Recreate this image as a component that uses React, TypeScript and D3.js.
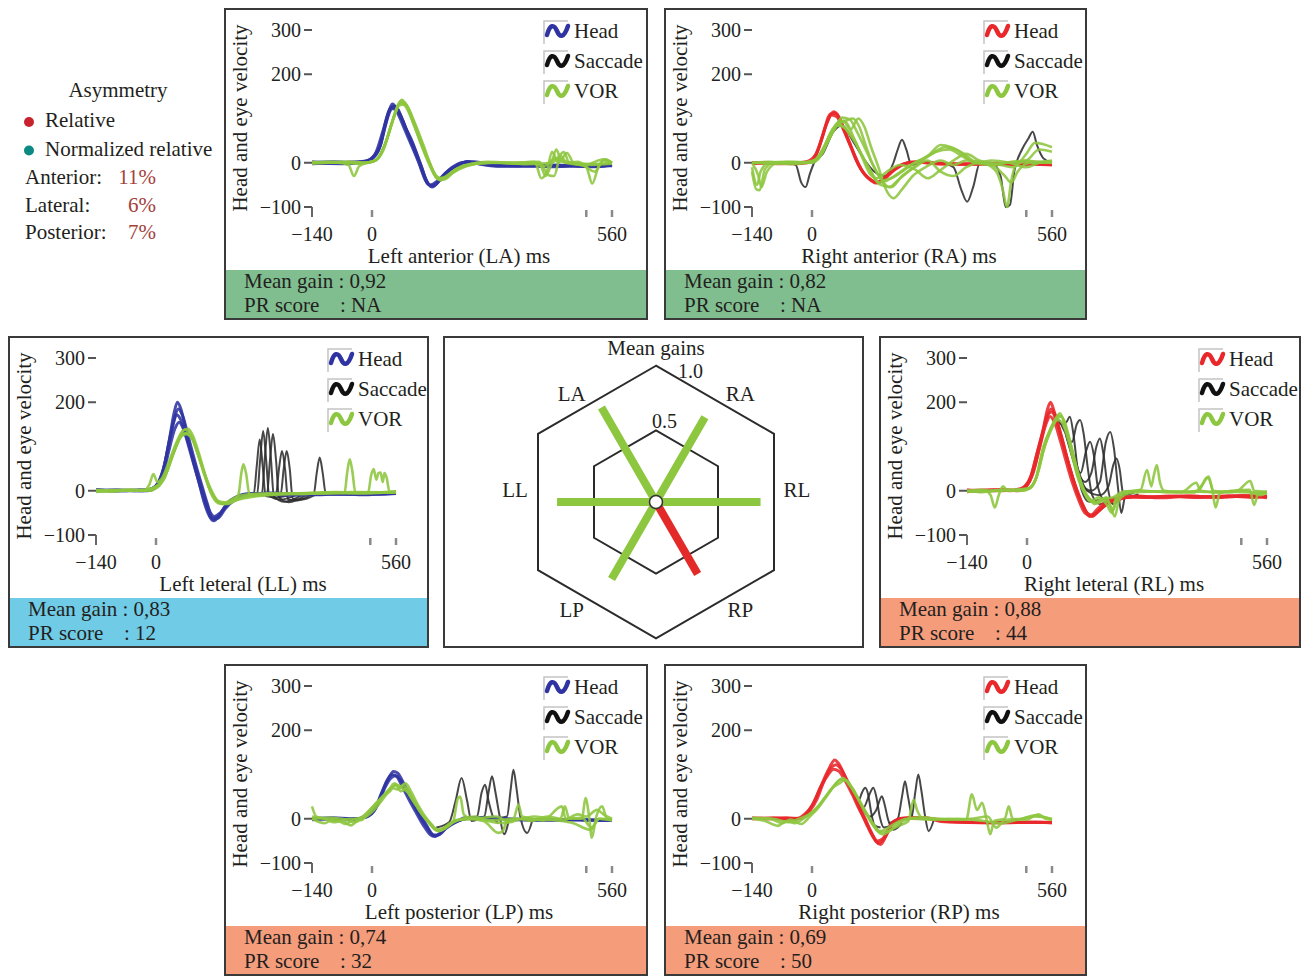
import React from "react";
import * as d3 from "d3";

type Pt = [number, number];

const FONT = "'Liberation Serif', 'Times New Roman', serif";
const INK = "#231f20";
const BLUE = "#3034a2";
const RED = "#e8282b";
const GREEN = "#8dc63f";
const SACC = "#2e2e2e";
const FS = 21; // words
const FN = 20; // numbers

// ---- axes ----
const xDomain: [number, number] = [-140, 560];
const yDomain: [number, number] = [-100, 300];
const xTickValues = [-140, 0, 500, 560];
const xTickLabels = ["−140", "0", "", "560"];
const yTickValues = [300, 200, 0, -100];
const yTickLabels = ["300", "200", "0", "−100"];
const legendLabels = ["Head", "Saccade", "VOR"];

// ---- panels (LA, RA, LL, RL, LP, RP) ----
const canalTitles = [
  "Left anterior (LA) ms",
  "Right anterior (RA) ms",
  "Left leteral (LL) ms",
  "Right leteral (RL) ms",
  "Left posterior (LP) ms",
  "Right posterior (RP) ms",
];
const canalSides = ["left", "right", "left", "right", "left", "right"];
const meanGainLabels = ["0,92", "0,82", "0,83", "0,88", "0,74", "0,69"];
const prScoreLabels = ["NA", "NA", "12", "44", "32", "50"];
const prBands = ["none", "none", "low", "high", "high", "high"];

// ---- head velocity traces (deg/s vs ms) ----
const laHead: Pt[][] = [
  [[-140,0],[-90,2],[-40,0],[-12,4],[5,15],[20,40],[35,100],[48,133],[60,118],[78,80],[95,45],[112,0],[128,-42],[140,-55],[158,-40],[180,-18],[200,-8],[220,2],[245,-2],[290,-8],[350,-6],[420,-9],[480,-7],[530,-8],[560,-5]],
  [[-140,2],[-100,0],[-50,1],[-15,2],[2,12],[18,35],[32,92],[45,125],[58,115],[75,78],[92,40],[110,-2],[125,-40],[136,-50],[152,-42],[175,-20],[198,-6],[225,3],[260,-4],[320,-7],[380,-5],[440,-8],[500,-6],[560,-6]],
  [[-140,-2],[-80,0],[-30,2],[-8,6],[10,25],[25,70],[40,118],[52,128],[65,110],[82,70],[100,30],[116,-10],[130,-48],[143,-52],[162,-35],[185,-12],[210,0],[240,2],[280,-6],[340,-8],[400,-6],[460,-7],[520,-9],[560,-4]],
  [[-140,0],[-70,-2],[-20,0],[0,8],[15,28],[30,80],[44,120],[56,126],[70,100],[88,55],[106,12],[122,-30],[137,-53],[150,-47],[170,-25],[195,-8],[215,1],[250,0],[300,-5],[370,-8],[430,-5],[490,-8],[560,-7]],
];
const raHead: Pt[][] = [
  [[-140,0],[-90,0],[-40,-2],[-10,0],[5,10],[20,45],[35,90],[50,115],[62,105],[78,68],[92,35],[106,0],[122,-25],[140,-40],[156,-45],[172,-32],[192,-15],[215,-2],[245,2],[300,-3],[380,-2],[460,-4],[520,-3],[560,-3]],
  [[-140,0],[-70,-2],[-25,0],[0,5],[15,30],[30,78],[46,108],[58,104],[72,78],[88,42],[102,8],[118,-20],[135,-38],[150,-46],[168,-38],[190,-18],[212,-4],[240,1],[300,-2],[360,-4],[430,-2],[500,-3],[560,-5]],
  [[-140,-2],[-100,0],[-50,0],[-15,2],[8,18],[25,62],[42,110],[55,112],[68,90],[84,52],[100,16],[115,-15],[132,-35],[148,-44],[162,-40],[182,-22],[205,-8],[230,1],[270,0],[340,-3],[410,-3],[480,-2],[560,-4]],
];
const llHead: Pt[][] = [
  [[-140,2],[-100,0],[-60,1],[-30,0],[-10,4],[5,18],[20,60],[32,120],[42,175],[50,200],[58,185],[70,135],[85,75],[100,20],[112,-25],[125,-58],[135,-68],[148,-55],[165,-30],[185,-15],[210,-10],[260,-8],[320,-10],[400,-7],[470,-8],[530,-6],[560,-5]],
  [[-140,0],[-90,2],[-50,0],[-20,2],[0,10],[15,40],[28,95],[40,150],[48,172],[58,160],[72,115],[88,60],[103,10],[118,-35],[130,-62],[142,-60],[160,-38],[182,-18],[205,-8],[250,-6],[310,-8],[380,-9],[450,-6],[510,-8],[560,-6]],
  [[-140,0],[-80,0],[-40,2],[-15,3],[3,14],[18,50],[30,108],[42,160],[52,185],[62,170],[76,120],[92,62],[107,12],[120,-30],[133,-65],[145,-62],[162,-40],[185,-20],[210,-10],[270,-5],[340,-9],[410,-6],[480,-9],[560,-5]],
  [[-140,3],[-100,0],[-50,0],[-20,0],[0,8],[16,35],[30,90],[44,140],[54,155],[64,140],[78,100],[94,48],[108,2],[122,-40],[136,-58],[150,-50],[170,-28],[195,-12],[225,-6],[290,-9],[360,-7],[430,-8],[500,-6],[560,-4]],
];
const rlHead: Pt[][] = [
  [[-140,0],[-90,0],[-50,2],[-25,0],[-5,10],[10,35],[25,90],[38,140],[48,185],[55,200],[63,180],[76,135],[90,85],[105,35],[118,-5],[132,-35],[146,-58],[160,-52],[175,-38],[200,-22],[240,-14],[280,-15],[330,-12],[400,-14],[470,-12],[530,-15],[560,-12]],
  [[-140,-2],[-100,0],[-60,0],[-30,2],[-8,8],[8,30],[22,80],[36,130],[48,172],[58,178],[68,160],[82,115],[96,65],[110,18],[124,-20],[138,-48],[152,-58],[168,-45],[190,-28],[220,-18],[260,-12],[310,-16],[380,-12],[450,-15],[510,-12],[560,-16]],
  [[-140,0],[-80,2],[-40,0],[-15,3],[2,15],[18,55],[32,110],[45,160],[56,185],[66,170],[80,125],[94,72],[108,25],[122,-12],[136,-45],[150,-55],[165,-48],[185,-30],[210,-20],[250,-13],[300,-14],[370,-12],[440,-14],[500,-11],[560,-14]],
  [[-140,2],[-110,0],[-60,2],[-20,0],[0,12],[15,42],[30,100],[44,150],[54,168],[64,155],[78,112],[93,60],[107,15],[121,-22],[135,-50],[148,-56],[162,-44],[182,-26],[210,-16],[260,-14],[330,-13],[400,-15],[480,-12],[560,-13]],
];
const lpHead: Pt[][] = [
  [[-140,0],[-100,0],[-60,-2],[-30,0],[-10,10],[8,25],[22,58],[38,90],[50,107],[60,103],[75,78],[92,43],[108,15],[124,-9],[138,-32],[148,-39],[162,-30],[178,-16],[200,-5],[217,2],[250,3],[300,0],[360,-2],[420,-3],[480,-2],[530,-4],[560,-3]],
  [[-140,0],[-90,2],[-50,0],[-20,2],[0,12],[15,35],[30,70],[44,92],[55,97],[66,88],[82,60],[98,30],[114,2],[130,-22],[143,-37],[156,-36],[172,-22],[195,-8],[220,0],[270,2],[330,-1],[400,-3],[470,-2],[560,-4]],
  [[-140,-2],[-80,0],[-40,0],[-12,5],[5,18],[20,50],[34,85],[47,100],[58,95],[72,70],[88,40],[104,12],[120,-15],[135,-35],[147,-40],[160,-32],[180,-14],[205,-3],[240,2],[300,-1],[380,-3],[450,-2],[520,-3],[560,-2]],
];
const rpHead: Pt[][] = [
  [[-140,0],[-90,2],[-50,0],[-30,2],[-15,12],[0,30],[20,72],[38,110],[53,133],[62,125],[76,98],[92,66],[108,32],[124,0],[138,-30],[150,-52],[160,-58],[172,-40],[186,-10],[205,0],[230,2],[265,2],[300,-6],[360,-8],[430,-9],[500,-8],[560,-9]],
  [[-140,2],[-100,0],[-60,2],[-25,0],[-10,15],[5,38],[22,75],[38,100],[50,112],[62,108],[78,85],[94,55],[110,22],[125,-5],[140,-35],[152,-50],[165,-45],[180,-20],[200,-3],[240,3],[280,0],[330,-7],[400,-9],[470,-8],[560,-8]],
  [[-140,0],[-80,0],[-40,-2],[-20,5],[-5,18],[12,45],[28,85],[44,115],[56,122],[68,112],[84,82],[100,48],[116,12],[130,-18],[145,-45],[156,-55],[170,-42],[188,-12],[210,1],[250,2],[310,-5],[380,-8],[450,-9],[520,-8],[560,-9]],
];

// ---- VOR (eye) traces ----
const laVor: Pt[][] = [
  [[-140,0],[-100,2],[-60,0],[-30,-2],[0,2],[15,12],[35,55],[55,115],[70,142],[85,118],[100,80],[118,35],[135,-5],[152,-35],[170,-32],[195,-15],[230,-4],[280,0],[340,-2],[390,0],[405,-30],[418,-5],[430,30],[442,5],[470,0],[520,-3],[560,0]],
  [[-140,0],[-80,0],[-55,-5],[-42,-30],[-30,-8],[-10,0],[12,8],[32,45],[52,105],[66,135],[80,125],[98,85],[115,40],[132,0],[150,-32],[168,-38],[190,-22],[220,-8],[270,0],[330,0],[380,2],[395,-35],[408,-20],[420,25],[435,0],[455,22],[470,0],[500,-10],[514,-47],[528,-10],[545,8],[560,0]],
  [[-140,2],[-90,0],[-40,0],[-10,0],[10,6],[30,40],[50,100],[68,140],[82,128],[100,90],[120,40],[138,-8],[155,-38],[175,-30],[200,-12],[240,-2],[300,0],[360,-3],[420,0],[448,24],[460,0],[500,-4],[540,8],[560,0]],
  [[-140,0],[-60,2],[-20,0],[5,4],[25,25],[45,85],[62,132],[76,136],[92,105],[110,60],[128,15],[145,-22],[160,-40],[180,-28],[210,-10],[250,0],[310,0],[370,0],[400,-8],[428,10],[450,0],[500,-5],[560,-2]],
  [[-140,-2],[-100,0],[-50,2],[-15,0],[8,5],[28,35],[48,95],[64,130],[78,132],[96,95],[114,48],[132,5],[150,-30],[165,-36],[188,-20],[225,-5],[270,2],[330,0],[390,2],[412,-28],[425,-30],[440,15],[455,0],[480,2],[520,-20],[540,5],[560,0]],
];
const raVor: Pt[][] = [
  [[-140,0],[-125,-30],[-118,-55],[-105,-20],[-80,0],[-40,2],[0,0],[20,15],[40,55],[58,85],[75,80],[95,55],[115,20],[135,-15],[155,-45],[175,-40],[200,-25],[230,-5],[260,10],[290,25],[320,30],[350,15],[380,0],[420,-5],[450,0],[500,5],[530,30],[560,25]],
  [[-140,-10],[-128,-50],[-120,-20],[-100,0],[-60,2],[-20,0],[5,5],[25,30],[45,70],[62,92],[78,95],[95,100],[110,82],[125,40],[140,0],[160,-35],[180,-55],[200,-40],[225,-20],[250,0],[280,20],[310,35],[340,28],[370,5],[400,0],[430,-20],[445,-60],[455,-100],[465,-40],[480,0],[520,2],[560,0]],
  [[-140,0],[-90,0],[-50,-3],[-10,0],[15,10],[35,45],[55,80],[72,95],[90,75],[108,100],[122,82],[138,35],[155,-10],[170,-55],[190,-80],[210,-60],[235,-30],[265,-10],[300,5],[330,-5],[360,5],[400,0],[440,-5],[470,-10],[500,20],[520,45],[540,42],[560,35]],
  [[-140,-20],[-130,-60],[-122,-62],[-110,-15],[-90,0],[-50,0],[-10,2],[10,8],[30,40],[50,78],[66,85],[84,70],[102,45],[120,10],[140,-25],[160,-50],[185,-55],[210,-30],[240,-10],[270,5],[300,-20],[330,-30],[360,-10],[390,0],[420,-5],[450,-30],[465,-45],[480,-20],[510,0],[560,0]],
  [[-140,0],[-100,2],[-60,0],[-20,0],[10,6],[30,35],[52,75],[70,102],[88,98],[105,70],[125,30],[145,-10],[165,-40],[185,-35],[210,-20],[240,0],[270,15],[300,40],[325,35],[355,20],[385,0],[420,5],[460,0],[500,-10],[530,0],[560,5]],
  [[-140,0],[-80,-2],[-30,0],[0,0],[22,20],[42,62],[60,88],[78,92],[96,60],[116,15],[135,-25],[152,-35],[175,-20],[205,-5],[240,-15],[270,-35],[295,-20],[330,5],[360,20],[390,5],[430,-2],[470,2],[500,5],[530,2],[560,3]],
];
const llVor: Pt[][] = [
  [[-140,0],[-100,-2],[-60,2],[-30,0],[-15,15],[-6,38],[3,20],[15,30],[30,65],[48,110],[62,135],[75,140],[88,120],[100,85],[112,45],[125,5],[140,-20],[155,-30],[175,-25],[200,-18],[240,-12],[290,-8],[350,-5],[420,-3],[480,-5],[560,-2]],
  [[-140,-3],[-90,0],[-40,0],[-10,5],[10,18],[28,50],[45,95],[60,125],[72,130],[86,115],[100,80],[114,35],[128,-5],[145,-28],[165,-30],[190,-20],[220,-10],[260,-8],[320,-6],[400,-5],[460,-3],[560,-4]],
  [[-140,0],[-70,2],[-25,0],[0,10],[18,25],[35,70],[52,112],[66,138],[80,128],[95,90],[110,48],[125,10],[140,-18],[158,-30],[180,-22],[192,-10],[200,45],[204,60],[210,40],[218,-8],[240,-10],[280,-8],[340,-6],[400,-6],[440,-5],[446,40],[452,71],[458,45],[465,-3],[500,-4],[560,-3]],
  [[-140,0],[-100,0],[-50,2],[-15,0],[5,10],[24,40],[42,88],[58,122],[70,128],[84,118],[98,82],[112,38],[128,-2],[145,-25],[165,-28],[190,-18],[230,-10],[290,-7],[360,-6],[430,-5],[495,-4],[502,35],[508,49],[514,25],[519,40],[524,41],[529,20],[533,40],[538,30],[545,-3],[560,-2]],
  [[-140,2],[-80,0],[-30,2],[0,6],[20,30],[38,80],[55,118],[68,130],[82,124],[97,86],[112,42],[128,0],[146,-24],[162,-26],[185,-15],[215,-8],[260,-6],[330,-8],[400,-4],[470,-6],[560,-3]],
];
const rlVor: Pt[][] = [
  [[-140,0],[-100,2],[-85,-10],[-75,-38],[-66,-10],[-56,10],[-45,0],[-20,0],[5,5],[20,25],[38,100],[55,140],[68,165],[77,175],[88,150],[100,110],[112,60],[124,20],[135,-5],[148,-20],[160,-25],[180,-18],[200,-15],[225,-2],[260,0],[300,-2],[350,-3],[400,0],[420,30],[432,5],[440,-38],[450,-5],[480,0],[520,2],[530,-32],[540,-5],[560,-3]],
  [[-140,-2],[-90,0],[-50,2],[-10,0],[10,10],[25,40],[42,105],[60,150],[74,170],[86,160],[98,120],[110,72],[122,30],[134,0],[150,-22],[165,-28],[185,-15],[200,-45],[210,-20],[230,-3],[265,2],[280,47],[290,10],[296,35],[303,58],[310,20],[320,0],[360,-3],[395,18],[405,0],[440,-3],[490,0],[521,22],[530,0],[560,-2]],
  [[-140,0],[-80,0],[-40,2],[0,3],[18,20],[36,85],[54,132],[70,162],[80,168],[92,140],[105,95],[118,45],[130,8],[145,-18],[158,-30],[172,-20],[190,-25],[205,-58],[215,-20],[240,-5],[290,-2],[340,-2],[390,-4],[410,15],[424,32],[434,0],[470,-2],[520,-4],[560,-5]],
  [[-140,0],[-110,-3],[-70,0],[-30,2],[5,6],[22,30],[40,95],[58,145],[72,160],[84,150],[96,115],[108,68],[120,25],[132,-2],[148,-24],[168,-15],[185,-30],[198,-50],[208,-15],[225,-5],[270,0],[330,-3],[400,-2],[460,-4],[510,0],[545,-10],[560,-5]],
];
const lpVor: Pt[][] = [
  [[-140,28],[-130,5],[-110,0],[-90,-8],[-70,-5],[-50,-15],[-30,0],[-15,10],[0,25],[20,45],[40,66],[55,75],[68,62],[80,70],[95,45],[110,20],[125,0],[142,-20],[155,-28],[175,-18],[190,-5],[200,45],[206,50],[214,10],[230,0],[280,-3],[330,0],[342,32],[350,5],[400,-3],[440,0],[450,28],[460,0],[490,0],[498,47],[506,10],[513,-43],[522,0],[537,28],[548,0],[560,-2]],
  [[-140,0],[-110,-10],[-90,0],[-60,-12],[-40,0],[-20,2],[0,15],[18,35],[36,58],[52,80],[64,72],[78,80],[92,60],[108,30],[124,5],[140,-15],[155,-28],[170,-22],[190,-8],[220,0],[260,-5],[295,-32],[305,-28],[315,-5],[350,0],[380,5],[420,-2],[470,-10],[510,-25],[530,0],[560,-4]],
  [[-140,0],[-100,2],[-70,0],[-40,-8],[-20,5],[-5,20],[12,38],[30,55],[46,70],[60,66],[74,75],[88,52],[104,28],[118,8],[134,-10],[150,-25],[168,-20],[185,-8],[210,0],[240,5],[270,-5],[310,-10],[340,0],[370,-5],[410,5],[450,-2],[480,10],[500,5],[525,20],[540,10],[560,0]],
  [[-140,5],[-110,0],[-80,-5],[-50,0],[-25,-3],[-10,12],[8,30],[25,50],[42,62],[56,78],[70,70],[85,58],[100,38],[116,12],[132,-5],[148,-22],[160,-26],[178,-15],[200,-3],[240,0],[290,5],[320,-8],[350,0],[400,-3],[443,28],[452,0],[490,2],[512,-20],[530,0],[560,-3]],
];
const rpVor: Pt[][] = [
  [[-140,0],[-110,-5],[-80,-16],[-60,-5],[-40,-10],[-20,0],[0,15],[20,35],[40,60],[58,82],[72,92],[88,75],[104,50],[120,22],[136,-5],[150,-25],[165,-35],[185,-25],[202,-16],[225,-5],[237,43],[245,20],[260,0],[300,0],[360,-2],[373,55],[385,20],[397,36],[407,0],[416,-35],[425,-5],[450,0],[459,28],[468,0],[500,-2],[529,10],[545,0],[560,-2]],
  [[-140,0],[-100,0],[-70,-10],[-50,-2],[-25,-12],[-5,5],[15,25],[35,52],[52,75],[66,88],[80,85],[96,65],[112,38],[128,10],[144,-15],[160,-30],[178,-28],[200,-12],[230,0],[280,-2],[340,0],[400,-5],[440,-10],[480,-2],[520,5],[560,0]],
  [[-140,2],[-90,0],[-55,-8],[-30,0],[-10,8],[10,22],[30,48],[48,70],[64,80],[78,88],[94,70],[110,42],[126,15],[142,-10],[158,-28],[175,-22],[195,-10],[220,0],[260,3],[310,-2],[370,0],[410,5],[430,-20],[450,-3],[490,0],[520,8],[560,-2]],
];

// ---- saccade traces ----
const laSacc: Pt[][] = [];
const raSacc: Pt[][] = [
  [[-140,0],[-60,0],[-38,-5],[-25,-45],[-15,-55],[-5,-25],[5,0],[25,20],[50,70],[70,85],[95,50],[120,10],[145,-20],[170,-30],[190,0],[200,30],[210,52],[220,30],[232,-5],[260,0],[300,0],[330,-10],[348,-60],[362,-88],[376,-55],[392,0],[420,0],[440,-30],[452,-100],[462,-95],[472,-20],[490,30],[505,55],[515,70],[525,40],[540,10],[560,0]],
];
const llSacc: Pt[][] = [
  [[200,-10],[228,-8],[235,55],[242,116],[249,55],[256,-12],[280,-15],[320,-8]],
  [[200,-10],[236,-8],[243,70],[250,135],[257,70],[264,-10],[290,-20],[330,-8]],
  [[210,-10],[247,-8],[254,75],[261,142],[268,75],[275,-12],[300,-25],[340,-10]],
  [[220,-10],[259,-8],[266,70],[273,128],[280,70],[287,-15],[310,-26],[350,-10]],
  [[230,-10],[280,-8],[287,50],[294,90],[301,50],[308,-20],[330,-22],[360,-10]],
  [[240,-10],[291,-8],[298,50],[305,90],[312,50],[319,-18],[340,-20],[370,-10]],
  [[300,-8],[368,-8],[375,40],[382,75],[389,40],[396,-6],[420,-8]],
];
const rlSacc: Pt[][] = [
  [[70,160],[82,150],[92,155],[100,167],[108,130],[118,50],[128,0],[145,-25],[170,-20]],
  [[75,160],[90,130],[105,110],[116,150],[124,160],[132,130],[142,50],[152,-10],[170,-30],[200,-20]],
  [[90,130],[110,70],[125,40],[138,90],[147,111],[156,80],[165,10],[180,-20],[210,-15]],
  [[90,130],[115,50],[135,20],[150,40],[162,100],[170,118],[178,85],[188,10],[200,-30],[225,-10]],
  [[100,100],[125,20],[150,0],[170,20],[184,110],[194,133],[203,95],[212,10],[220,-50],[230,-10],[250,-5]],
  [[110,80],[140,0],[170,-10],[190,10],[202,60],[209,73],[216,50],[224,-5],[235,-15],[260,-8]],
];
const lpSacc: Pt[][] = [
  [[150,-20],[180,-8],[195,40],[209,92],[222,40],[232,-5],[250,0]],
  [[220,0],[245,5],[256,60],[264,77],[272,40],[282,5],[295,-10]],
  [[230,0],[262,5],[272,60],[280,96],[288,60],[298,5],[308,-35],[320,0]],
  [[280,0],[315,5],[324,70],[330,111],[337,70],[346,5],[362,-32],[375,0]],
];
const rpSacc: Pt[][] = [
  [[95,60],[108,40],[117,60],[124,70],[131,55],[138,15],[146,-15],[160,-20]],
  [[100,55],[120,25],[134,55],[143,70],[150,50],[158,5],[168,-20],[185,-15]],
  [[110,40],[135,5],[150,20],[163,51],[170,30],[177,0],[190,-25],[210,-10]],
  [[180,-10],[200,0],[210,50],[217,85],[224,50],[234,5],[250,0]],
  [[200,0],[232,2],[241,60],[248,100],[255,65],[264,5],[272,-28],[285,0]],
];

const headTraces = [laHead, raHead, llHead, rlHead, lpHead, rpHead];
const vorTraces = [laVor, raVor, llVor, rlVor, lpVor, rpVor];
const saccadeTraces = [laSacc, raSacc, llSacc, rlSacc, lpSacc, rpSacc];

// ---- radar (mean gains), counter-clockwise from the right ----
const radarAxes = ["RL", "RA", "LA", "LL", "LP", "RP"];
const radarGains = [0.88, 0.82, 0.92, 0.83, 0.74, 0.69];
const radarAbnormal = [false, false, false, false, false, true];
const ringValues = [0.5, 1.0];
const ringLabels = ["0.5", "1.0"];

// ---- asymmetry legend ----
const asymKinds = ["Relative", "Normalized relative"];
const asymRows = ["Anterior:", "Lateral:", "Posterior:"];
const asymValues = ["11%", "6%", "7%"];

// ---- layout ----
const panelBoxes = [
  { x: 224, y: 8, w: 424, h: 312 },
  { x: 664, y: 8, w: 423, h: 312 },
  { x: 8, y: 336, w: 421, h: 312 },
  { x: 879, y: 336, w: 422, h: 312 },
  { x: 224, y: 664, w: 424, h: 312 },
  { x: 664, y: 664, w: 423, h: 312 },
];
const radarBox = { x: 443, y: 336, w: 421, h: 312 };
const bandFill: Record<string, string> = { none: "#80bd8f", low: "#70cbe6", high: "#f59c7b" };

const LegendIcon = ({ y, color }: { y: number; color: string }) => (
  <g>
    <path d={`M320,${y + 13} V${y - 10} H344`} fill="none" stroke="#c4c4c4" strokeWidth={1.5} />
    <path
      d={`M323,${y + 4} C326,${y - 7} 330,${y - 7} 333,${y} C336,${y + 7} 340,${y + 7} 344,${y - 5}`}
      fill="none"
      stroke={color}
      strokeWidth={4.5}
      strokeLinecap="round"
    />
  </g>
);

const TracePanel = ({ i }: { i: number }) => {
  const b = panelBoxes[i];
  const xs = d3.scaleLinear().domain(xDomain).range([88, 388]);
  const ys = d3.scaleLinear().domain(yDomain).range([199, 22]);
  const line = d3
    .line<Pt>()
    .x((d) => xs(d[0]))
    .y((d) => ys(d[1]))
    .curve(d3.curveMonotoneX);
  const headColor = canalSides[i] === "left" ? BLUE : RED;
  const series = [
    { traces: saccadeTraces[i], color: SACC, width: 2 },
    { traces: headTraces[i], color: headColor, width: 3 },
    { traces: vorTraces[i], color: GREEN, width: 2.6 },
  ];
  const legendColors = [headColor, "#111", GREEN];
  const axisBottom = ys(-100);
  return (
    <g transform={`translate(${b.x},${b.y})`} fontFamily={FONT} fill={INK}>
      <rect x={1} y={1} width={b.w - 2} height={b.h - 2} fill="#fff" />
      <rect x={2} y={262} width={b.w - 4} height={b.h - 263} fill={bandFill[prBands[i]]} />

      {/* y ticks */}
      {yTickValues.map((v, k) => (
        <g key={v}>
          <line x1={80} x2={88} y1={ys(v)} y2={ys(v)} stroke="#555" strokeWidth={2} />
          <text x={77} y={ys(v)} dy="0.35em" textAnchor="end" fontSize={FN}>
            {yTickLabels[k]}
          </text>
        </g>
      ))}
      {/* x ticks */}
      {xTickValues.map((v, k) => (
        <g key={v}>
          <line
            x1={xs(v)}
            x2={xs(v)}
            y1={k === 0 ? axisBottom : axisBottom + 3}
            y2={axisBottom + 10}
            stroke={k === 0 ? "#666" : "#8a8a8a"}
            strokeWidth={k === 0 ? 2 : 2.5}
          />
          <text x={xs(v)} y={233} textAnchor="middle" fontSize={FN}>
            {xTickLabels[k]}
          </text>
        </g>
      ))}
      <text x={235} y={255} textAnchor="middle" fontSize={FS}>
        {canalTitles[i]}
      </text>
      <text transform="translate(23,110) rotate(-90)" textAnchor="middle" fontSize={FS}>
        Head and eye velocity
      </text>

      {/* traces */}
      {series.map((s, si) =>
        s.traces.map((t, ti) => (
          <path
            key={`${si}-${ti}`}
            d={line(t) || ""}
            fill="none"
            stroke={s.color}
            strokeWidth={s.width}
            strokeOpacity={0.88}
            strokeLinejoin="round"
          />
        ))
      )}

      {/* legend */}
      {legendLabels.map((lab, k) => (
        <g key={lab}>
          <LegendIcon y={23 + k * 30} color={legendColors[k]} />
          <text x={350} y={30 + k * 30} fontSize={FS}>
            {lab}
          </text>
        </g>
      ))}

      {/* gain band */}
      <text x={20} y={280} fontSize={FS}>{`Mean gain : ${meanGainLabels[i]}`}</text>
      <text x={20} y={304} fontSize={FS}>PR score</text>
      <text x={116} y={304} fontSize={FS}>{`: ${prScoreLabels[i]}`}</text>

      <rect x={1} y={1} width={b.w - 2} height={b.h - 2} fill="none" stroke="#3a3a3a" strokeWidth={2} />
    </g>
  );
};

const RadarPanel = () => {
  const b = radarBox;
  const cx = 213;
  const cy = 166;
  const r = d3.scaleLinear().domain([0, 1]).range([6, 118]);
  const cos30 = Math.cos(Math.PI / 6);
  const hex = (v: number) => {
    const R = r(v) / cos30;
    const pts = d3.range(6).map((k) => {
      const a = ((90 + k * 60) * Math.PI) / 180;
      return [cx + R * Math.cos(a), cy - R * Math.sin(a)] as [number, number];
    });
    return "M" + pts.map((p) => p.join(",")).join("L") + "Z";
  };
  const ringLabelPos = [
    { dx: -4, dy: -2 },
    { dx: 22, dy: 12 },
  ];
  return (
    <g transform={`translate(${b.x},${b.y})`} fontFamily={FONT} fill={INK}>
      <rect x={1} y={1} width={b.w - 2} height={b.h - 2} fill="#fff" stroke="#3a3a3a" strokeWidth={2} />
      <text x={cx} y={19} textAnchor="middle" fontSize={FS}>
        Mean gains
      </text>
      {ringValues.map((v) => (
        <path key={v} d={hex(v)} fill="none" stroke="#2b2b2b" strokeWidth={2} />
      ))}
      {ringValues.map((v, k) => (
        <text
          key={`l${v}`}
          x={cx + ringLabelPos[k].dx}
          y={cy - r(v) / cos30 + ringLabelPos[k].dy}
          fontSize={FN}
        >
          {ringLabels[k]}
        </text>
      ))}
      {radarAxes.map((ax, k) => {
        const a = (k * 60 * Math.PI) / 180;
        const c = Math.cos(a);
        const s = Math.sin(a);
        return (
          <line
            key={ax}
            x1={cx + r(0) * c}
            y1={cy - r(0) * s}
            x2={cx + r(radarGains[k]) * c}
            y2={cy - r(radarGains[k]) * s}
            stroke={radarAbnormal[k] ? "#e42a29" : GREEN}
            strokeWidth={8}
          />
        );
      })}
      <circle cx={cx} cy={cy} r={6.5} fill="#fff" stroke="#333" strokeWidth={1.5} />
      {radarAxes.map((ax, k) => {
        const horizontal = k % 3 === 0;
        const base = k * 60;
        const nudge = horizontal ? 0 : Math.sign(Math.cos((base * Math.PI) / 180)) * Math.sign(Math.sin((base * Math.PI) / 180)) * -8;
        const a = ((base + nudge) * Math.PI) / 180;
        const R = horizontal ? 141 : 137;
        return (
          <text
            key={`t${ax}`}
            x={cx + R * Math.cos(a)}
            y={cy - R * Math.sin(a) - (horizontal ? 12 : 0)}
            dy="0.35em"
            textAnchor="middle"
            fontSize={FS}
          >
            {ax}
          </text>
        );
      })}
    </g>
  );
};

const AsymmetryLegend = () => (
  <g fontFamily={FONT} fill={INK} fontSize={FS}>
    <text x={118} y={97} textAnchor="middle">
      Asymmetry
    </text>
    {asymKinds.map((k, i) => (
      <g key={k}>
        <circle cx={29} cy={122 + i * 28.5} r={5} fill={i === 0 ? "#c8232c" : "#0b8a84"} />
        <text x={45} y={127 + i * 28.5}>
          {k}
        </text>
      </g>
    ))}
    {asymRows.map((row, i) => (
      <g key={row}>
        <text x={25} y={184 + i * 27.7}>
          {row}
        </text>
        <text x={156} y={184 + i * 27.7} textAnchor="end" fill="#a3413b">
          {asymValues[i]}
        </text>
      </g>
    ))}
  </g>
);

export default function App() {
  return (
    <svg
      width={1303}
      height={977}
      viewBox="0 0 1303 977"
      style={{ position: "absolute", left: 0, top: 0, background: "#fff" }}
    >
      <rect width={1303} height={977} fill="#fff" />
      <AsymmetryLegend />
      {panelBoxes.map((_, i) => (
        <TracePanel key={i} i={i} />
      ))}
      <RadarPanel />
    </svg>
  );
}
